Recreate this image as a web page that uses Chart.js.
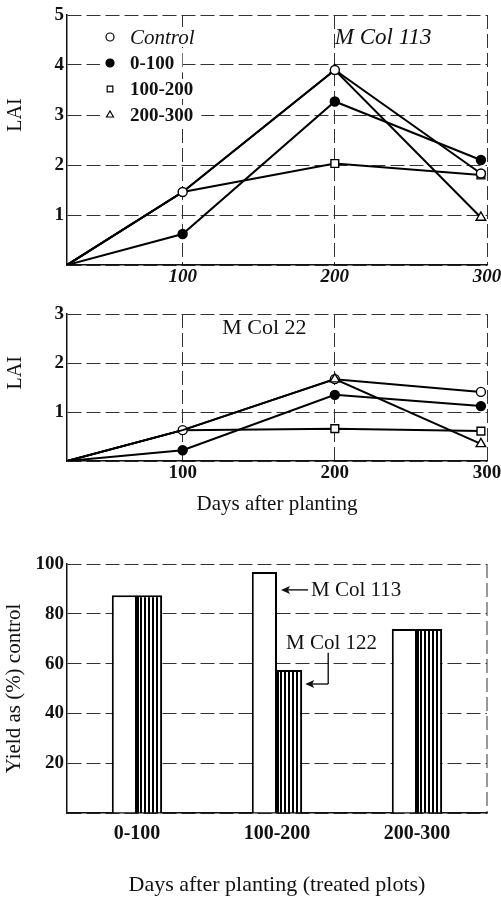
<!DOCTYPE html>
<html>
<head>
<meta charset="utf-8">
<title>LAI and yield</title>
<script src="https://cdn.jsdelivr.net/npm/chart.js@4.4.1/dist/chart.umd.min.js"></script>
<style>
  html, body { margin: 0; padding: 0; background: #fff; }
  #wrap { position: relative; width: 501px; height: 897px; overflow: hidden; }
  #wrap canvas { position: absolute; left: 0; }
</style>
</head>
<body>
<div id="wrap">
  <canvas id="lai113" width="501" height="295" style="top:0"></canvas>
  <canvas id="lai22" width="501" height="230" style="top:300px"></canvas>
  <canvas id="yield" width="501" height="357" style="top:540px"></canvas>
</div>
<script>
// data
const days = [24, 100, 200, 296];
const dayTicks = [100, 200, 300];
const treatments = ['Control', '0-100', '100-200', '200-300'];

const lai113Control = [0, 1.46, 3.9, 1.83];
const lai113T0_100 = [0, 0.62, 3.27, 2.1];
const lai113T100_200 = [0, 1.46, 2.03, 1.8];
const lai113T200_300 = [0, 1.46, 3.9, 0.95];

const lai22Control = [0, 0.63, 1.67, 1.41];
const lai22T0_100 = [0, 0.22, 1.35, 1.12];
const lai22T100_200 = [0, 0.63, 0.66, 0.61];
const lai22T200_300 = [0, 0.63, 1.67, 0.35];

const plotCategories = ['0-100', '100-200', '200-300'];
const yieldMCol113 = [87.5, 96.8, 73.9];
const yieldMCol122 = [87.5, 57.4, 73.9];

// styling
const serif = "'Liberation Serif', 'Times New Roman', serif";
Chart.defaults.font.family = serif;
Chart.defaults.color = '#111';
Chart.defaults.animation = false;
Chart.defaults.plugins.legend.display = false;
Chart.defaults.plugins.tooltip.enabled = false;

const markerStyles = ['circle', 'circle', 'rect', 'triangle'];
const markerFills = ['#fff', '#000', '#fff', '#fff'];
const markerSizes = [4.5, 4.5, 5.5, 5.5];
const firstMarker = [1, 1, 2, 2]; // before this the treated plot is the control
const gridDash = [14, 5];

function laiDatasets(series, topIndex) {
  return series.map((values, i) => ({
    label: treatments[i],
    data: values.map((y, k) => ({ x: days[k], y })),
    borderColor: '#000',
    borderWidth: 2,
    pointStyle: markerStyles[i],
    pointBackgroundColor: markerFills[i],
    pointBorderColor: '#000',
    pointBorderWidth: 1.4,
    pointRadius: c => (c.dataIndex < firstMarker[i] ? 0 : markerSizes[i]),
    order: i === topIndex ? 0 : 1,
    tension: 0,
  }));
}

function laiOptions(yMax, xFont, xHeight, xTitle) {
  return {
    responsive: false,
    layout: { padding: { top: yMax === 5 ? 15 : 14, right: 14, left: 0, bottom: 0 } },
    scales: {
      x: {
        type: 'linear',
        min: days[0],
        max: 300,
        afterBuildTicks: s => { s.ticks = dayTicks.map(v => ({ value: v })); },
        afterFit: s => { s.height = xHeight; s.paddingLeft = 0; s.paddingRight = 0; },
        ticks: { font: xFont, padding: 1, color: '#111', maxRotation: 0 },
        grid: { color: '#333', lineWidth: 1, drawTicks: false },
        border: { color: '#111', width: 1.5, dash: gridDash },
        title: xTitle,
      },
      y: {
        min: 0,
        max: yMax,
        afterFit: s => { s.width = 67; s.paddingTop = 0; s.paddingBottom = 0; },
        ticks: {
          stepSize: 1,
          padding: 3,
          font: { size: 19, weight: 'bold' },
          color: '#111',
          callback: v => (v === 0 ? '' : v),
        },
        grid: { color: '#333', lineWidth: 1, drawTicks: false },
        border: { color: '#111', width: 1.5, dash: gridDash },
      },
    },
  };
}

// LAI label, cultivar name and (top chart) marker key
function laiNotes(name, nameAt, nameFont, laiAt, withKey) {
  return {
    id: 'laiNotes',
    afterDatasetsDraw(chart) {
      const { ctx, chartArea, scales } = chart;
      ctx.save();
      ctx.fillStyle = '#111';
      ctx.font = '20px ' + serif;
      ctx.textAlign = 'center';
      ctx.textBaseline = 'middle';
      ctx.translate(16, scales.y.getPixelForValue(laiAt));
      ctx.rotate(-Math.PI / 2);
      ctx.fillText('LAI', 0, 0);
      ctx.restore();

      ctx.save();
      ctx.fillStyle = '#111';
      ctx.font = nameFont;
      ctx.textAlign = 'left';
      ctx.textBaseline = 'middle';
      ctx.fillText(name, scales.x.getPixelForValue(nameAt[0]), scales.y.getPixelForValue(nameAt[1]));

      if (withKey) {
        const x0 = chartArea.left + 43;
        const y0 = chartArea.top + 22;
        chart.data.datasets.forEach((ds, i) => {
          const y = y0 + i * 26;
          ctx.font = (i === 0 ? 'italic 21px ' : 'bold 19px ') + serif;
          const w = ctx.measureText(ds.label).width;
          ctx.fillStyle = '#fff';
          ctx.fillRect(x0 - 10, y - 10, w + 38, 20);
          ctx.fillStyle = markerFills[i];
          ctx.strokeStyle = '#000';
          ctx.lineWidth = 1.2;
          Chart.helpers.drawPoint(ctx, { pointStyle: markerStyles[i], radius: 4, borderWidth: 1.2, rotation: 0 }, x0, y);
          ctx.fillStyle = '#111';
          ctx.fillText(ds.label, x0 + 20, y + 1);
        });
      }
      ctx.restore();
    },
  };
}

new Chart(document.getElementById('lai113'), {
  type: 'line',
  data: { datasets: laiDatasets([lai113Control, lai113T0_100, lai113T100_200, lai113T200_300], 0) },
  options: laiOptions(5, { size: 19, weight: 'bold', style: 'italic' }, 30, { display: false }),
  plugins: [laiNotes('M Col 113', [200, 4.54], 'italic 23px ' + serif, 3, true)],
});

new Chart(document.getElementById('lai22'), {
  type: 'line',
  data: { datasets: laiDatasets([lai22Control, lai22T0_100, lai22T100_200, lai22T200_300], 3) },
  options: laiOptions(3, { size: 19, weight: 'bold' }, 69, {
    display: true,
    text: 'Days after planting',
    color: '#111',
    font: { size: 21, lineHeight: 1 },
    padding: { top: 0, bottom: 15 },
  }),
  plugins: [laiNotes('M Col 22', [126, 2.72], '22px ' + serif, 1.8, false)],
});

// vertical stripes for the second cultivar
function stripes() {
  const c = document.createElement('canvas');
  c.width = 4;
  c.height = 8;
  const g = c.getContext('2d');
  g.fillStyle = '#fff';
  g.fillRect(0, 0, 4, 8);
  g.fillStyle = '#000';
  g.fillRect(0, 0, 2, 8);
  return g.createPattern(c, 'repeat');
}

function arrowLeft(ctx, x1, x2, y) {
  ctx.beginPath();
  ctx.moveTo(x1, y);
  ctx.lineTo(x2 + 6, y);
  ctx.stroke();
  ctx.beginPath();
  ctx.moveTo(x2, y);
  ctx.lineTo(x2 + 9, y - 4);
  ctx.lineTo(x2 + 7, y);
  ctx.lineTo(x2 + 9, y + 4);
  ctx.closePath();
  ctx.fill();
}

const barNotes = {
  id: 'barNotes',
  beforeDatasetsDraw(chart) {
    const { ctx, chartArea } = chart;
    ctx.save();
    ctx.strokeStyle = '#333';
    ctx.lineWidth = 1;
    ctx.setLineDash(gridDash);
    ctx.beginPath();
    ctx.moveTo(chartArea.right, chartArea.top);
    ctx.lineTo(chartArea.right, chartArea.bottom);
    ctx.stroke();
    ctx.restore();
  },
  afterDatasetsDraw(chart) {
    const { ctx, scales } = chart;
    const b113 = chart.getDatasetMeta(0).data[1];
    const b122 = chart.getDatasetMeta(1).data[1];
    ctx.save();
    ctx.strokeStyle = '#000';
    ctx.fillStyle = '#111';
    ctx.lineWidth = 1.3;
    ctx.font = '21px ' + serif;
    ctx.textBaseline = 'middle';

    const tip113 = b113.x + b113.width / 2 + 4;
    const y113 = scales.y.getPixelForValue(89.6);
    arrowLeft(ctx, tip113 + 27, tip113, y113);
    ctx.fillText('M Col 113', tip113 + 30, y113 + 1);

    const tip122 = b122.x + b122.width / 2 + 3;
    const y122 = scales.y.getPixelForValue(51.8);
    const yText = scales.y.getPixelForValue(68);
    const xBend = tip122 + 23;
    ctx.fillText('M Col 122', b113.x + b113.width / 2 + 9, yText);
    ctx.beginPath();
    ctx.moveTo(xBend, yText + 9);
    ctx.lineTo(xBend, y122);
    ctx.stroke();
    arrowLeft(ctx, xBend, tip122, y122);
    ctx.restore();
  },
};

new Chart(document.getElementById('yield'), {
  type: 'bar',
  data: {
    labels: plotCategories,
    datasets: [
      { label: 'M Col 113', data: yieldMCol113, backgroundColor: '#fff', borderColor: '#000', borderWidth: 2 },
      { label: 'M Col 122', data: yieldMCol122, backgroundColor: stripes(), borderColor: '#000', borderWidth: 2 },
    ],
  },
  options: {
    responsive: false,
    layout: { padding: { top: 24, right: 14, left: 0, bottom: 0 } },
    datasets: { bar: { barPercentage: 1, categoryPercentage: 0.36 } },
    scales: {
      x: {
        afterFit: s => { s.height = 84; s.paddingLeft = 0; s.paddingRight = 0; },
        ticks: { font: { size: 20, weight: 'bold' }, padding: 1, color: '#111' },
        grid: { display: false },
        border: { color: '#111', width: 1.5 },
        title: {
          display: true,
          text: 'Days after planting (treated plots)',
          color: '#111',
          font: { size: 22, lineHeight: 1 },
          padding: { top: 0, bottom: 1 },
        },
      },
      y: {
        min: 0,
        max: 100,
        afterFit: s => { s.width = 67; s.paddingTop = 0; s.paddingBottom = 0; },
        ticks: {
          stepSize: 20,
          padding: 3,
          font: { size: 19, weight: 'bold' },
          color: '#111',
          callback: v => (v === 0 ? '' : v),
        },
        grid: { color: '#333', lineWidth: 1, drawTicks: false },
        border: { color: '#111', width: 1.5, dash: gridDash },
        title: {
          display: true,
          text: 'Yield as (%) control',
          color: '#111',
          font: { size: 21, lineHeight: 1 },
          padding: { top: 4, bottom: 0 },
        },
      },
    },
  },
  plugins: [barNotes],
});
</script>
</body>
</html>
